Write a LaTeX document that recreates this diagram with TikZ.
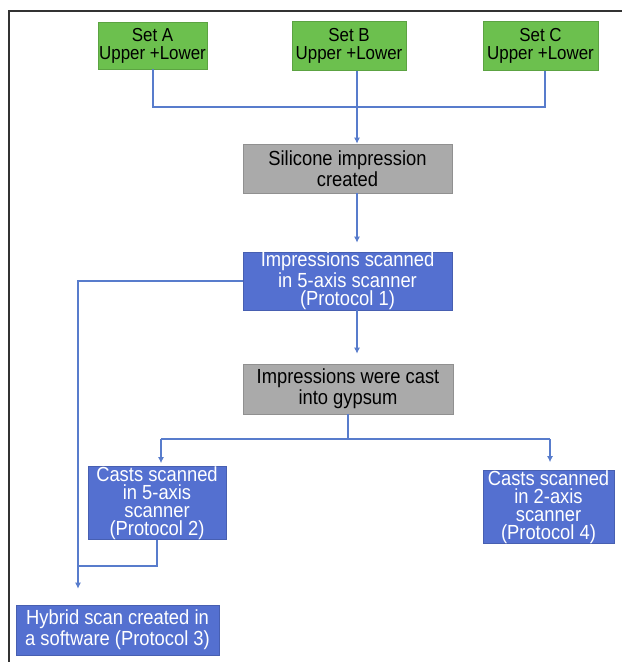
\documentclass[tikz,border=0pt]{standalone}
\usepackage{fontspec}
\setmainfont{Liberation Sans}[FakeStretch=0.9]
\usetikzlibrary{arrows.meta}
\definecolor{setgreen}{RGB}{108,192,78}
\definecolor{boxgrey}{RGB}{170,170,170}
\definecolor{boxblue}{RGB}{84,112,208}
\definecolor{linkblue}{RGB}{88,124,204}

\begin{document}
\begin{tikzpicture}[x=0.5pt, y=-0.5pt,
        box/.style={rectangle, inner sep=0pt, align=center, line width=0.3pt,
            font=\fontsize{10.2}{9}\selectfont},
        setbox/.style={box, fill=setgreen, draw=setgreen!85!black,
            font=\fontsize{9.4}{9}\selectfont},
        greybox/.style={box, fill=boxgrey, draw=boxgrey!85!black},
        bluebox/.style={box, fill=boxblue, draw=boxblue!85!black, text=white},
        link/.style={draw=linkblue, line width=1pt},
        arrow/.style={link, -{Latex[length=3pt, width=3pt]}}]

        \useasboundingbox (0,0) rectangle (622,662);
        \draw[black!80, line width=0.8pt] (9,662) -- (9,11) -- (622,11);

        \node[setbox, minimum width=54.5pt, minimum height=23.5pt] (setA) at (152.5,45.5) {Set A\\Upper +Lower};
        \node[setbox, minimum width=57pt, minimum height=24.5pt] (setB) at (349,46) {Set B\\Upper +Lower};
        \node[setbox, minimum width=57.5pt, minimum height=24.5pt] (setC) at (540.5,46) {Set C\\Upper +Lower};

        \node[greybox, minimum width=104.5pt, minimum height=24.5pt] (silicone) at (347.5,168.5) {Silicone impression\\created};
        \node[bluebox, minimum width=104.5pt, minimum height=27pt] (scan1) at (347.5,281) {Impressions scanned\\in 5-axis scanner\\(Protocol 1)};
        \node[greybox, minimum width=105pt, minimum height=25pt] (cast) at (348,389) {Impressions were cast\\into gypsum};

        \node[bluebox, minimum width=69pt, minimum height=36pt] (p2) at (157,503) {Casts scanned\\in 5-axis\\scanner\\(Protocol 2)};
        \node[bluebox, minimum width=65.5pt, minimum height=35pt] (p4) at (548.5,507) {Casts scanned\\in 2-axis\\scanner\\(Protocol 4)};
        \node[bluebox, minimum width=101.5pt, minimum height=25pt] (hybrid) at (117.5,630) {Hybrid scan created in\\a software (Protocol 3)};

        \coordinate (spine) at (357,0);
        \coordinate (busL) at (153,107);
        \coordinate (busR) at (545,107);
        \coordinate (splitL) at (161,439);
        \coordinate (splitR) at (550,439);
        \coordinate (rail) at (78,0);
        \coordinate (join) at (78,566);

        \draw[link] (setA.south -| busL) -- (busL) -- (busR) -- (setC.south -| busR);
        \draw[arrow] (setB.south -| spine) -- (silicone.north -| spine);
        \draw[arrow, shorten >=4.5pt] (silicone.south -| spine) -- (scan1.north -| spine);
        \draw[arrow, shorten >=5pt] (scan1.south -| spine) -- (cast.north -| spine);

        \draw[link] (cast.south) -- (cast.south |- splitL);
        \draw[link] (splitL) -- (splitR);
        \draw[arrow, shorten >=1.5pt] (splitL) -- (splitL |- p2.north);
        \draw[arrow, shorten >=4pt] (splitR) -- (splitR |- p4.north);

        \draw[arrow, shorten >=8pt] (scan1.west) -- (scan1.west -| rail) -- (hybrid.north -| rail);
        \draw[link] (p2.south) |- (join);
    \end{tikzpicture}
\end{document}
